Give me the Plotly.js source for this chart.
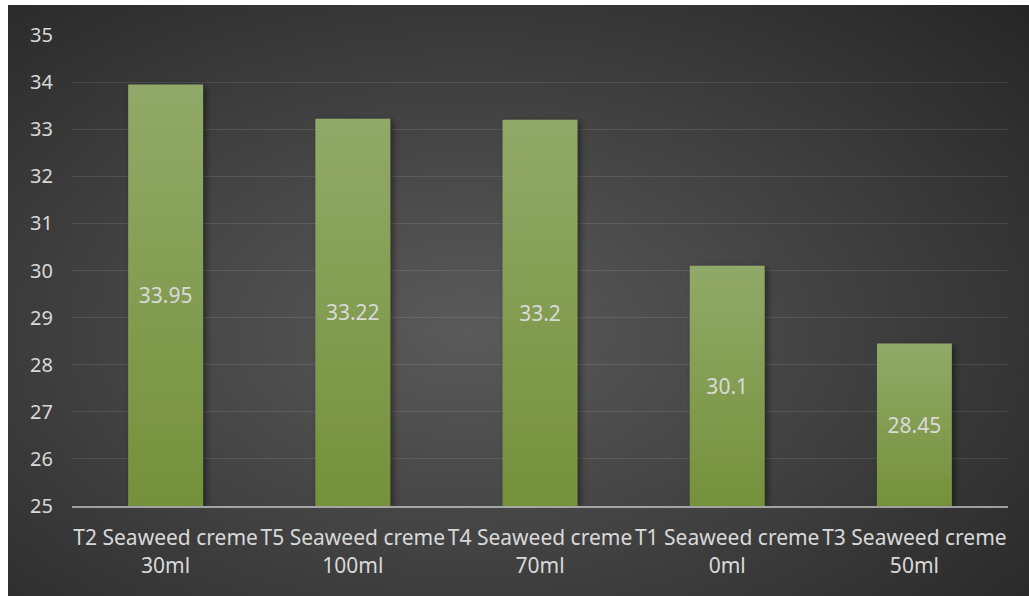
<!DOCTYPE html>
<html>
<head>
<meta charset="utf-8">
<script src="https://cdn.plot.ly/plotly-3.0.1.min.js"></script>
<style>
  html, body { margin: 0; padding: 0; background: #ffffff; }
  #frame {
    position: absolute; left: 8px; top: 5px; width: 1021px; height: 591px;
    background: radial-gradient(ellipse 75% 80% at 45% 55%, #5a5a5a 0%, #434343 45%, #262626 100%);
  }
  #chart { width: 1021px; height: 591px; }
</style>
</head>
<body>
<div id="frame"><div id="chart"></div></div>
<script>
// Treatment groups and their measured values
const categories = [
  'T2 Seaweed creme<br>30ml',
  'T5 Seaweed creme<br>100ml',
  'T4 Seaweed creme<br>70ml',
  'T1 Seaweed creme<br>0ml',
  'T3 Seaweed creme<br>50ml'
];
const values = [33.95, 33.22, 33.2, 30.1, 28.45];
const axisBase = 25;
const tickValues = [25, 26, 27, 28, 29, 30, 31, 32, 33, 34, 35];

const textColor = '#d9d9d9';
const fontFamily = '"Noto Sans", "Open Sans", sans-serif';

const trace = {
  type: 'bar',
  x: categories,
  base: axisBase,
  y: values.map(v => v - axisBase),
  text: values.map(v => String(v)),
  textposition: 'inside',
  insidetextanchor: 'middle',
  textangle: 0,
  constraintext: 'none',
  textfont: { family: fontFamily, size: 21, color: textColor },
  marker: { color: '#83a04f', line: { width: 0 } },
  hoverinfo: 'skip'
};

const layout = {
  width: 1021,
  height: 591,
  margin: { l: 64, r: 21, t: 30, b: 90 },
  paper_bgcolor: 'rgba(0,0,0,0)',
  plot_bgcolor: 'rgba(0,0,0,0)',
  bargap: 0.6,
  showlegend: false,
  font: { family: fontFamily, size: 21, color: textColor },
  xaxis: {
    type: 'category',
    showgrid: false,
    showline: true,
    linecolor: 'rgba(230,230,230,0.6)',
    linewidth: 2,
    ticks: '',
    ticklabelstandoff: 12,
    tickfont: { family: fontFamily, size: 21, color: textColor },
    layer: 'above traces'
  },
  yaxis: {
    range: [25, 35],
    tickvals: tickValues,
    ticktext: tickValues.map(String),
    showline: false,
    zeroline: false,
    ticks: '',
    gridcolor: 'rgba(255,255,255,0.1)',
    gridwidth: 1,
    ticklabelstandoff: 18,
    tickfont: { family: fontFamily, size: 20, color: textColor }
  }
};

Plotly.newPlot('chart', [trace], layout, { displayModeBar: false, staticPlot: true }).then(gd => {
  // vertical green gradient and soft drop shadow for the bars
  const svgNS = 'http://www.w3.org/2000/svg';
  const svg = gd.querySelector('svg.main-svg');
  const defs = document.createElementNS(svgNS, 'defs');
  defs.innerHTML =
    '<linearGradient id="barFill" x1="0" y1="0" x2="0" y2="1">' +
      '<stop offset="0" stop-color="#91a968"/>' +
      '<stop offset="1" stop-color="#75913b"/>' +
    '</linearGradient>' +
    '<filter id="barShadow" x="-20%" y="-20%" width="150%" height="150%">' +
      '<feDropShadow dx="3" dy="2" stdDeviation="3" flood-color="#000" flood-opacity="0.45"/>' +
    '</filter>';
  svg.insertBefore(defs, svg.firstChild);
  gd.querySelectorAll('.bars path').forEach(p => {
    p.style.setProperty('fill', 'url(#barFill)');
    p.setAttribute('filter', 'url(#barShadow)');
  });
});
</script>
</body>
</html>
